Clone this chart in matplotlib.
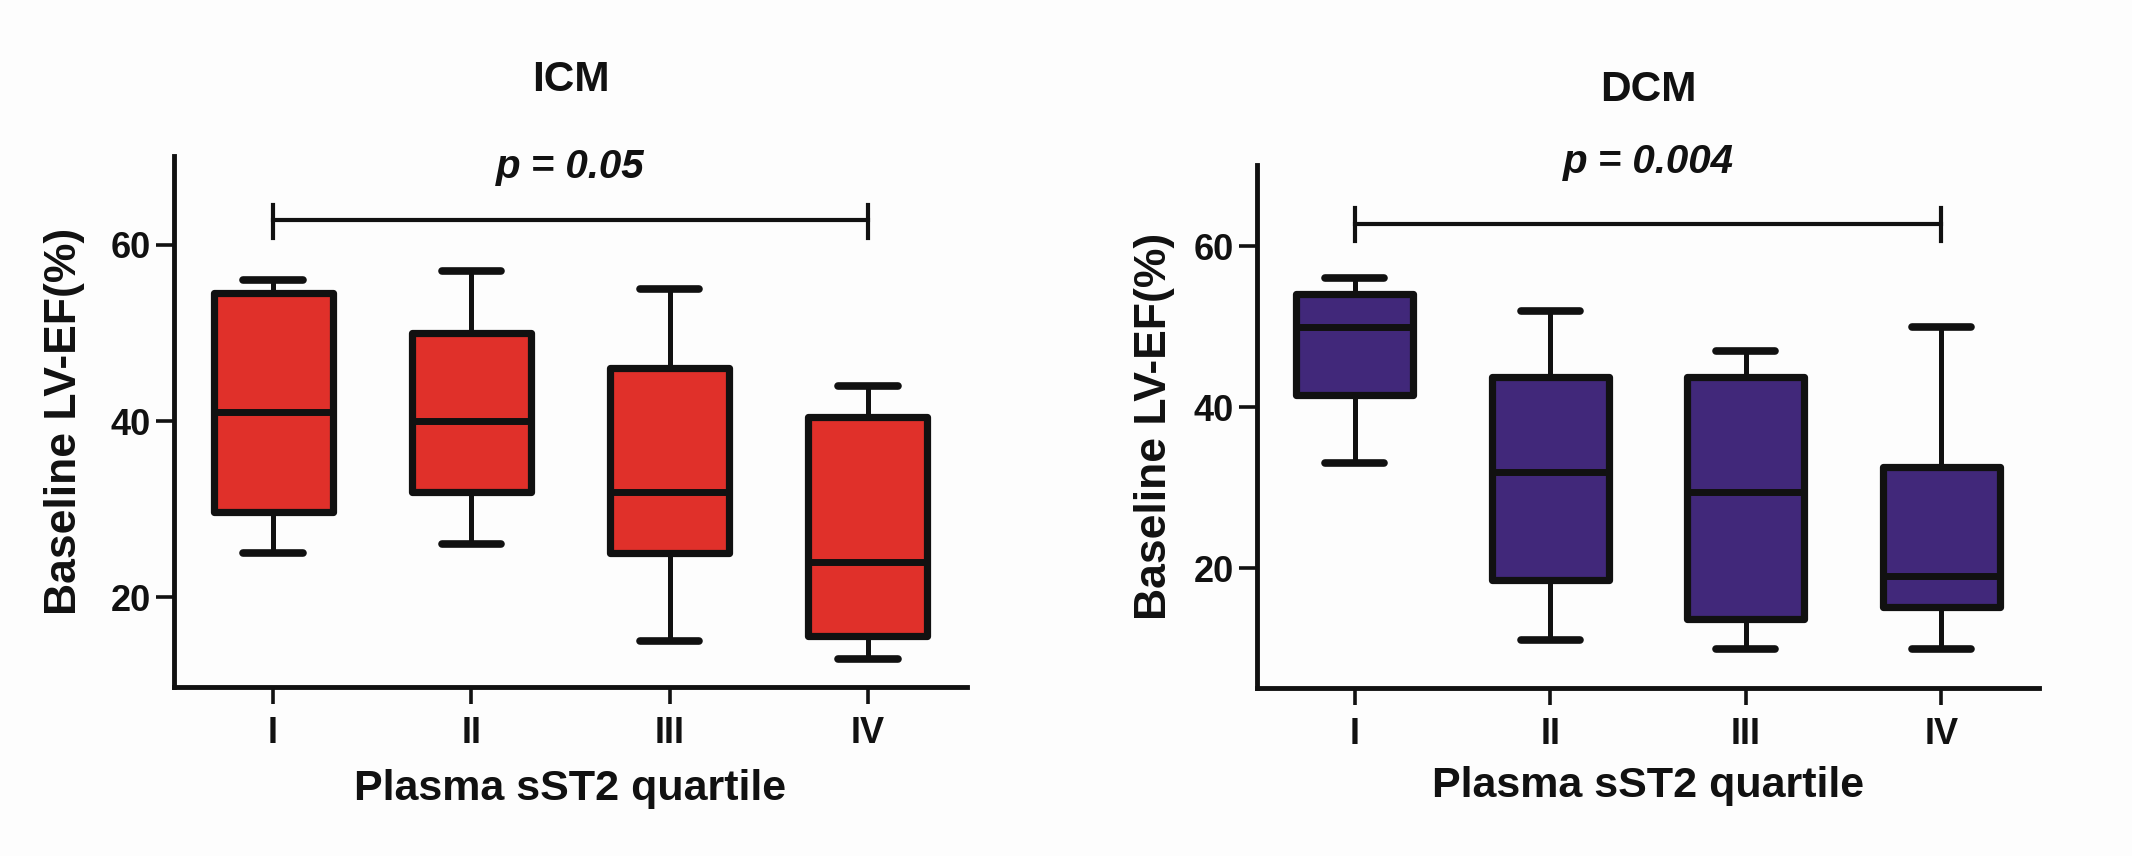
import matplotlib
matplotlib.use("Agg")
import matplotlib.pyplot as plt

plt.rcParams['font.family'] = ['Liberation Sans', 'DejaVu Sans']
plt.rcParams['font.weight'] = 'bold'

quartiles = ["I", "II", "III", "IV"]
yticks = [20, 40, 60]

icm_whishi = [56, 57, 55, 44]
icm_q3 = [54.6, 50, 46, 40.5]
icm_med = [41, 40, 32, 24]
icm_q1 = [29.7, 32, 25, 15.6]
icm_whislo = [25, 26, 15, 13]

dcm_whishi = [56, 52, 47, 50]
dcm_q3 = [54, 43.8, 43.8, 32.6]
dcm_med = [50, 32, 29.5, 19]
dcm_q1 = [41.5, 18.5, 13.7, 15.2]
dcm_whislo = [33, 11, 10, 10]

titles = ["ICM", "DCM"]
pvals = ["p = 0.05", "p = 0.004"]
colors = ["#E0302A", "#41287A"]

fig = plt.figure(figsize=(21.32, 8.56), dpi=100, facecolor="#fdfdfd")

panels = [
    dict(rect=[0.0816, 0.1974, 0.372, 0.6203], ylim=(9.8, 70.1),
         stats=(icm_whislo, icm_q1, icm_med, icm_q3, icm_whishi),
         bar_y=62.8, tick_lo=60.8, tick_hi=64.5, p_y=68.9, title_y=0.9065,
         ylab_x=-0.112, xlab_y=-0.155),
    dict(rect=[0.5896, 0.1963, 0.3668, 0.611], ylim=(5.1, 70.1),
         stats=(dcm_whislo, dcm_q1, dcm_med, dcm_q3, dcm_whishi),
         bar_y=62.7, tick_lo=60.7, tick_hi=64.7, p_y=70.5, title_y=0.895,
         ylab_x=-0.105, xlab_y=-0.150),
]

for i, pnl in enumerate(panels):
    ax = fig.add_axes(pnl["rect"])
    ax.set_facecolor("none")
    lo, q1, med, q3, hi = pnl["stats"]
    stats = [dict(whislo=lo[k], q1=q1[k], med=med[k], q3=q3[k], whishi=hi[k],
                  fliers=[], label=quartiles[k]) for k in range(len(quartiles))]
    ax.bxp(stats, positions=range(1, 5), widths=0.6, capwidths=0.3,
           patch_artist=True, showfliers=False,
           boxprops=dict(facecolor=colors[i], edgecolor="#111111", linewidth=5.2,
                         joinstyle="round"),
           whiskerprops=dict(color="#111111", linewidth=3.6),
           capprops=dict(color="#111111", linewidth=5.5, solid_capstyle="round"),
           medianprops=dict(color="#111111", linewidth=5.0, solid_capstyle="butt"))
    ax.set_xlim(0.5, 4.5)
    ax.set_ylim(*pnl["ylim"])
    ax.set_yticks(yticks)
    ax.set_xticks(range(1, 5))
    ax.set_xticklabels(quartiles)
    for s in ["top", "right"]:
        ax.spines[s].set_visible(False)
    for s in ["left", "bottom"]:
        ax.spines[s].set_linewidth(3.5)
        ax.spines[s].set_color("#111111")
    ax.tick_params(axis="y", length=13, width=2.6, pad=3.5, labelsize=26, colors="#111111")
    ax.tick_params(axis="x", length=12, width=2.6, pad=9, labelsize=26, colors="#111111")
    ax.set_ylabel("Baseline LV-EF(%)", fontsize=32, fontweight="bold", color="#111111")
    ax.yaxis.set_label_coords(pnl["ylab_x"], 0.5)
    ax.set_xlabel("Plasma sST2 quartile", fontsize=31, fontweight="bold", color="#111111",
                  va="top")
    ax.xaxis.set_label_coords(0.5, pnl["xlab_y"])
    # comparison bar
    ax.plot([1, 4], [pnl["bar_y"], pnl["bar_y"]], color="#111111", lw=3, clip_on=False)
    for xe in (1, 4):
        ax.plot([xe, xe], [pnl["tick_lo"], pnl["tick_hi"]], color="#111111", lw=3,
                clip_on=False)
    ax.text(2.5, pnl["p_y"], pvals[i], ha="center", va="center", fontsize=29,
            fontweight="bold", fontstyle="italic", color="#111111", clip_on=False)
    x0, w = pnl["rect"][0], pnl["rect"][2]
    fig.text(x0 + w / 2, pnl["title_y"], titles[i], ha="center", va="center",
             fontsize=30.5, fontweight="bold", color="#111111")

fig.savefig("out.png", dpi=100, facecolor=fig.get_facecolor())
